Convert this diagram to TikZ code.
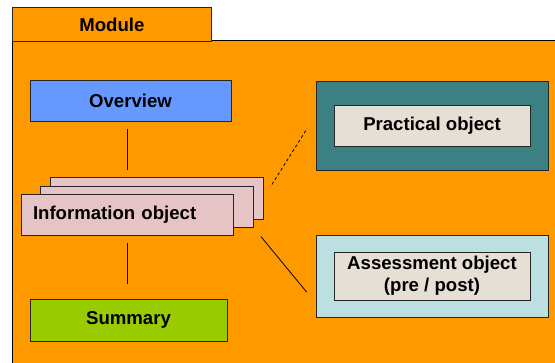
\documentclass[tikz,border=0pt]{standalone}
\usepackage{fontspec}
\setmainfont{Liberation Sans}
\usepackage{tikz}
\usetikzlibrary{calc}

\definecolor{modorange}{HTML}{FF9900}
\definecolor{ovblue}{HTML}{6699FF}
\definecolor{infopink}{HTML}{E6C4C6}
\definecolor{sumgreen}{HTML}{99CC00}
\definecolor{practeal}{HTML}{3B8183}
\definecolor{assesscyan}{HTML}{BCE0E2}
\definecolor{objbeige}{HTML}{E6DFD5}

\begin{document}
\begin{tikzpicture}[x=1pt,y=-1pt,
	box/.style={draw=black!85,line width=0.8pt,inner sep=0pt,
		font=\bfseries\fontsize{18.6}{22}\selectfont},
	link/.style={draw=black,line width=0.8pt}]
	\useasboundingbox (0,0) rectangle (555,362);
	\clip (0,0) rectangle (555,362);
	% module frame and tab
	\draw[fill=modorange,line width=0.8pt] (12,40) rectangle (580,390);
	\node[box,fill=modorange,minimum width=199pt,minimum height=34pt,anchor=north west] (tab) at (12,7) {Module};
	% left column
	\node[box,fill=ovblue,minimum width=201pt,minimum height=41pt] (ov) at (130.5,100.5) {Overview};
	\node[box,fill=infopink,minimum width=213pt,minimum height=42pt] (infoback) at (156.5,198) {};
	\node[box,fill=infopink,minimum width=213pt,minimum height=41pt] (infomid) at (146.5,206.5) {};
	\node[box,fill=infopink,minimum width=212pt,minimum height=41pt,text width=188pt,align=left,inner xsep=12pt] (info) at (127,214.5) {Information object};
	\node[box,fill=sumgreen,minimum width=197pt,minimum height=42pt] (sum) at (128.5,320) {Summary};
	% right column
	\node[box,fill=practeal,minimum width=232pt,minimum height=89pt] (prac) at (432,125.5) {};
	\node[box,fill=objbeige,minimum width=196pt,minimum height=41pt] (pracin) at (prac) {Practical object};
	\node[box,fill=assesscyan,minimum width=232pt,minimum height=82pt] (asm) at (432,276) {};
	\node[box,fill=objbeige,minimum width=196pt,minimum height=48pt,align=center] (asmin) at (asm) {Assessment object\\(pre / post)};
	% connectors
	\draw[link,shorten <=8pt,shorten >=7pt] (info.north |- ov.south) -- (info.north |- infoback.north);
	\draw[link,shorten <=8pt,shorten >=15pt] (info.south) -- (info.south |- sum.north);
	\draw[link,dash pattern=on 3pt off 2.5pt,shorten <=16pt,shorten >=16pt] (infoback.east) -- ([yshift=10.5pt]prac.west);
	\draw[link,shorten <=12pt,shorten >=14pt] (infomid.south east) -- ([yshift=-27pt]asm.west);
\end{tikzpicture}
\end{document}
